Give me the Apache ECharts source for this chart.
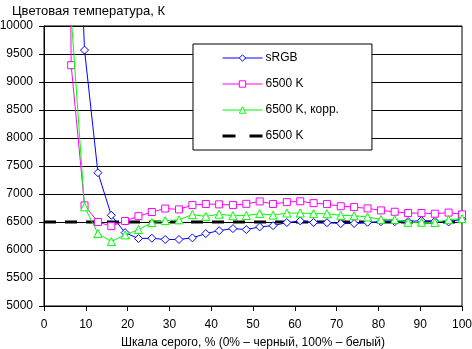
<!DOCTYPE html>
<html>
<head>
<meta charset="utf-8">
<script src="https://cdn.jsdelivr.net/npm/echarts@6/dist/echarts.min.js"></script>
<style>html,body{margin:0;padding:0;background:#fff;}#c{width:472px;height:349px;}</style>
</head>
<body>
<div id="c"></div>
<script>
const xValues = [3.2, 6.5, 9.7, 12.9, 16.1, 19.4, 22.6, 25.8, 29.0, 32.3, 35.5, 38.7, 41.9, 45.2, 48.4, 51.6, 54.8, 58.1, 61.3, 64.5, 67.7, 71.0, 74.2, 77.4, 80.6, 83.9, 87.1, 90.3, 93.5, 96.8, 100];
const sRGB = [null, 15400, 9570, 7380, 6620, 6310, 6205, 6210, 6188, 6188, 6216, 6293, 6345, 6382, 6365, 6412, 6435, 6490, 6520, 6492, 6488, 6472, 6474, 6496, 6505, 6505, 6508, 6525, 6512, 6500, 6550];
const k6500 = [40600, 9300, 6796, 6500, 6426, 6518, 6604, 6678, 6740, 6725, 6802, 6822, 6815, 6802, 6825, 6867, 6822, 6855, 6870, 6837, 6820, 6781, 6766, 6743, 6707, 6683, 6660, 6660, 6648, 6668, 6636];
const k6500corr = [38000, 10180, 6770, 6293, 6150, 6270, 6364, 6490, 6525, 6538, 6632, 6600, 6640, 6612, 6615, 6650, 6622, 6660, 6660, 6650, 6648, 6618, 6612, 6589, 6545, 6545, 6495, 6495, 6492, 6542, 6560];
const refX = [0, 100];
const refY = [6500, 6500];
const seriesNames = ['sRGB', '6500 K', '6500 K, корр.', '6500 K '];
const yTitle = 'Цветовая температура, К';
const xTitle = 'Шкала серого, % (0% – черный, 100% – белый)';

function pairs(xs, ys) { return xs.map((x, i) => [x, ys[i]]); }

const font = 'Liberation Sans, Arial, sans-serif';
const chart = echarts.init(document.getElementById('c'));
chart.setOption({
  animation: false,
  backgroundColor: '#fff',
  title: {
    text: yTitle, left: 7, top: 0,
    textStyle: { fontFamily: font, fontSize: 13, fontWeight: 'normal', color: '#000' }
  },
  grid: { left: 44, right: 10, top: 26, bottom: 43, show: true, borderColor: '#000', borderWidth: 1,
          containLabel: false, outerBoundsMode: 'none' },
  legend: {
    orient: 'vertical', left: 193, top: 44,
    padding: [7, 33, 7, 29],
    itemWidth: 40, itemHeight: 8, itemGap: 12,
    backgroundColor: '#fff', borderColor: '#000', borderWidth: 1, borderRadius: 0,
    textStyle: { fontFamily: font, fontSize: 12, color: '#000', padding: [0, 0, 0, -2], lineHeight: 14 },
    data: [
      { name: seriesNames[0], lineStyle: { width: 1 }, itemStyle: { color: '#fff', borderColor: '#0000ff', borderWidth: 1 } },
      { name: seriesNames[1], lineStyle: { width: 1 }, itemStyle: { color: '#fff', borderColor: '#ff00ff', borderWidth: 1 } },
      { name: seriesNames[2], lineStyle: { width: 1 }, itemStyle: { color: '#fff', borderColor: '#00ff00', borderWidth: 1 } },
      { name: seriesNames[3], icon: 'path://M0,0h13v3h-13zM27,0h13v3h-13z', itemStyle: { color: '#000', borderWidth: 0 } }
    ]
  },
  xAxis: {
    type: 'value', min: 0, max: 100, interval: 10,
    name: xTitle, nameLocation: 'middle', nameGap: 31,
    nameTextStyle: { fontFamily: font, fontSize: 12, color: '#000' },
    axisLine: { lineStyle: { color: '#000', width: 1 } },
    axisTick: { show: true, length: 5, lineStyle: { color: '#000' } },
    axisLabel: { fontFamily: font, fontSize: 12, color: '#000', margin: 13 },
    splitLine: { show: false }
  },
  yAxis: {
    type: 'value', min: 5000, max: 10000, interval: 500,
    axisLine: { show: true, lineStyle: { color: '#000', width: 1 } },
    axisTick: { show: true, length: 5, lineStyle: { color: '#000' } },
    axisLabel: { fontFamily: font, fontSize: 12, color: '#000', margin: 11, formatter: v => String(v) },
    splitLine: { show: true, lineStyle: { color: '#000', width: 1 } }
  },
  series: [
    {
      name: seriesNames[0], type: 'line', data: pairs(xValues, sRGB), z: 3,
      symbol: 'diamond', symbolSize: 8, showAllSymbol: true, clip: true,
      lineStyle: { color: '#0000ff', width: 1 },
      itemStyle: { color: '#fff', borderColor: '#0000ff', borderWidth: 1 }
    },
    {
      name: seriesNames[1], type: 'line', data: pairs(xValues, k6500), z: 4,
      symbol: 'rect', symbolSize: 7, showAllSymbol: true, clip: true,
      lineStyle: { color: '#ff00ff', width: 1 },
      itemStyle: { color: '#fff', borderColor: '#ff00ff', borderWidth: 1 }
    },
    {
      name: seriesNames[2], type: 'line', data: pairs(xValues, k6500corr), z: 5,
      symbol: 'triangle', symbolSize: 8, showAllSymbol: true, clip: true,
      lineStyle: { color: '#00ff00', width: 1 },
      itemStyle: { color: '#fff', borderColor: '#00ff00', borderWidth: 1 }
    },
    {
      name: seriesNames[3], type: 'line', data: pairs(refX, refY), z: 2,
      symbol: 'none', clip: true,
      lineStyle: { color: '#000', width: 3, type: [12, 9] },
      itemStyle: { color: '#000' }
    }
  ]
});
</script>
</body>
</html>
